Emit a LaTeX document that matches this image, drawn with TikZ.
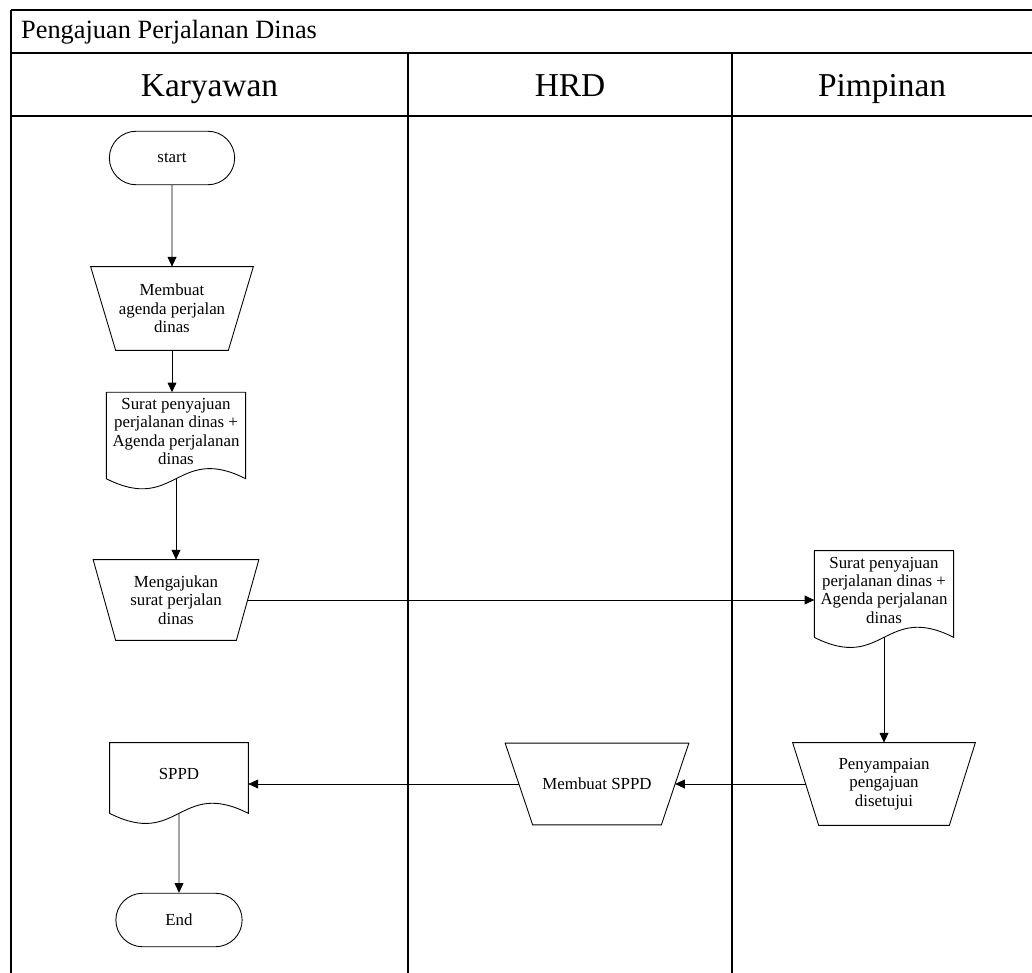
\documentclass[tikz,border=0pt]{standalone}
\usepackage{fontspec}
\setmainfont{Liberation Serif}
\usepackage{tikz}
\usetikzlibrary{shapes.misc, arrows.meta}

\tikzset{
	lane/.style = {line width=1.2pt},
	lanehead/.style = {anchor=base, font=\fontsize{19}{22}\selectfont},
	terminal/.style = {draw, rounded rectangle, line width=0.5pt, minimum width=2.74cm, minimum height=1.07cm, font=\fontsize{9.6}{10.4}\selectfont},
	manualop/.style = {rectangle, align=center, font=\fontsize{9.6}{10.4}\selectfont},
	docbox/.style = {rectangle, minimum width=2.76cm, text depth=0.16cm, align=center, font=\fontsize{9.6}{10.4}\selectfont},
	flow/.style = {-{Triangle[length=5.5pt, width=5pt]}, line width=0.5pt}
}

% document shape with wavy bottom
\newcommand{\docwave}[1]{\draw[line width=0.5pt] (#1.south west) -- (#1.north west) -- (#1.north east) -- (#1.south east) .. controls +(-1.38,0.7) and +(1.38,-0.7) .. (#1.south west);}
% manual operation: wide on top, narrow at the bottom
\newcommand{\manualop}[2]{\draw[line width=0.5pt] (#1.north west) -- (#1.north east) -- ([xshift=-#2]#1.south east) -- ([xshift=#2]#1.south west) -- cycle;}

\begin{document}
\begin{tikzpicture}
	\useasboundingbox (0,0) rectangle (20.64,-19.46);
	
	% swimlanes
	\draw[lane] (0.22,-0.2) -- (20.64,-0.2);
	\draw[lane] (0.22,-1.06) -- (20.64,-1.06);
	\draw[lane] (0.22,-2.32) -- (20.64,-2.32);
	\draw[lane] (0.22,-0.2) -- (0.22,-19.46);
	\draw[lane] (8.16,-1.06) -- (8.16,-19.46);
	\draw[lane] (14.64,-1.06) -- (14.64,-19.46);
	
	\node[anchor=west, font=\fontsize{15}{18}\selectfont] (title) at (0.3,-0.64) {Pengajuan Perjalanan Dinas};
	\node[lanehead] (karyawan) at (4.19,-1.94) {Karyawan};
	\node[lanehead] (hrd) at (11.4,-1.94) {HRD};
	\node[lanehead] (pimpinan) at (17.64,-1.94) {Pimpinan};
	
	% Karyawan
	\node[terminal] (start) at (3.44,-3.16) {start};
	
	\node[manualop, minimum width=3.24cm, minimum height=1.66cm] (agenda) at (3.44,-6.17) {Membuat\\agenda perjalan\\dinas};
	\manualop{agenda}{0.5cm}
	
	\node[docbox, minimum height=1.7cm] (surat) at (3.52,-8.71) {Surat penyajuan\\perjalanan dinas +\\Agenda perjalanan\\dinas};
	\docwave{surat}
	
	\node[manualop, minimum width=3.3cm, minimum height=1.6cm] (ajukan) at (3.52,-12.0) {Mengajukan\\surat perjalan\\dinas};
	\manualop{ajukan}{0.45cm}
	
	\node[docbox, minimum height=1.4cm] (sppd) at (3.58,-15.56) {SPPD};
	\docwave{sppd}
	
	\node[terminal, minimum width=2.76cm] (end) at (3.58,-18.4) {End};
	
	% HRD
	\node[manualop, minimum width=3.66cm, minimum height=1.62cm] (buatsppd) at (11.94,-15.68) {Membuat SPPD};
	\manualop{buatsppd}{0.55cm}
	
	% Pimpinan
	\node[docbox, minimum height=1.72cm] (suratpim) at (17.68,-11.88) {Surat penyajuan\\perjalanan dinas +\\Agenda perjalanan\\dinas};
	\docwave{suratpim}
	
	\node[manualop, minimum width=3.64cm, minimum height=1.64cm] (sampai) at (17.68,-15.68) {Penyampaian\\pengajuan\\disetujui};
	\manualop{sampai}{0.52cm}
	
	\draw[flow] (start) -- (agenda);
	
	\draw[flow] (agenda) -- (agenda |- surat.north);
	
	\draw[flow] (surat) -- (ajukan);
	
	\draw[flow] ([xshift=-0.225cm]ajukan.east) -- (suratpim.west |- ajukan.east);
	
	\draw[flow] (suratpim) -- (sampai);
	
	\draw[flow] ([xshift=0.26cm]sampai.west) -- ([xshift=-0.275cm]buatsppd.east);
	
	\draw[flow] ([xshift=0.275cm]buatsppd.west) -- (sppd.east |- buatsppd.west);
	
	\draw[flow] (sppd) -- (end);
\end{tikzpicture}
\end{document}
